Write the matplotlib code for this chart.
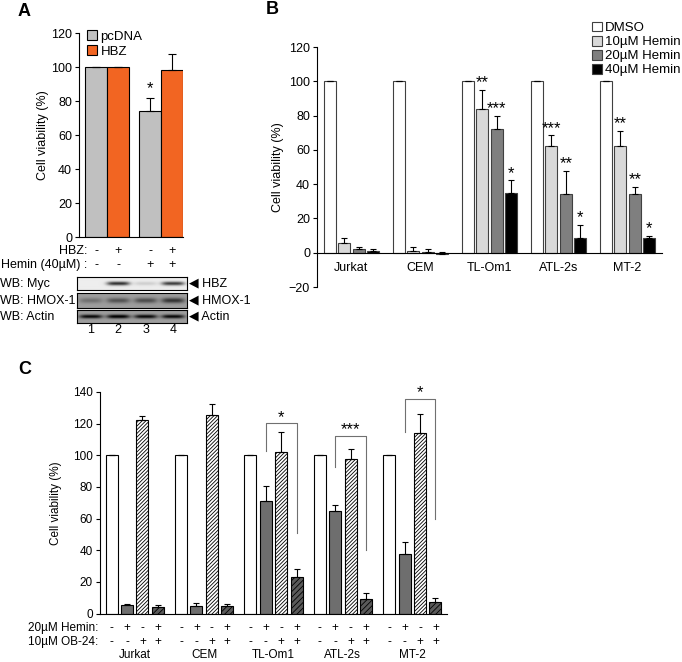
import numpy as np
import matplotlib
matplotlib.use("Agg")
import matplotlib.pyplot as plt
import matplotlib.transforms as mtrans
from matplotlib.patches import Patch

plt.rcParams['font.family'] = ['Liberation Sans', 'DejaVu Sans']
plt.rcParams['font.size'] = 9
plt.rcParams['hatch.linewidth'] = 0.6
plt.rcParams['axes.linewidth'] = 0.8

# ---------------- data ----------------
# panel A
a_groups = 2
a_pcdna = [100, 74]
a_pcdna_err = [0, 8]
a_hbz = [100, 98]
a_hbz_err = [0, 9.5]
a_hbz_signs = ['-', '+', '-', '+']
a_hemin_signs = ['-', '-', '+', '+']
a_lanes = ['1', '2', '3', '4']
# western blot band strengths per lane (0 = none)
wb_myc = [0.0, 0.75, 0.12, 0.7]
wb_hmox = [0.18, 0.3, 0.32, 0.42]
wb_actin = [0.6, 0.65, 0.6, 0.6]

# panel B
b_cells = ['Jurkat', 'CEM', 'TL-Om1', 'ATL-2s', 'MT-2']
b_series = ['DMSO', '10µM Hemin', '20µM Hemin', '40µM Hemin']
b_vals = [[100, 100, 100, 100, 100],
          [5.7, 0.8, 83.9, 62, 62],
          [2.3, 0.4, 72.2, 34.3, 34.3],
          [1.0, -0.8, 34.7, 8.6, 8.6]]
b_errs = [[0, 0, 0, 0, 0],
          [3.0, 2.7, 11.3, 6.5, 9.2],
          [1.0, 1.6, 7.8, 13.6, 4.2],
          [1.0, 1.3, 7.7, 7.8, 1.3]]
b_stars = [['', '', '', '', ''],
           ['', '', '**', '***', '**'],
           ['', '', '***', '**', '**'],
           ['', '', '*', '*', '*']]
b_colors = ['white', '#d9d9d9', '#7f7f7f', 'black']

# panel C
c_cells = ['Jurkat', 'CEM', 'TL-Om1', 'ATL-2s', 'MT-2']
c_vals = [[100, 100, 100, 100, 100],
          [5.3, 4.8, 71.3, 65, 37.7],
          [122.6, 125.3, 102, 97.5, 114.3],
          [4.4, 4.6, 22.8, 9.4, 7.5]]
c_errs = [[0, 0, 0, 0, 0],
          [0.4, 2.0, 9.2, 3.7, 7.8],
          [2.4, 7.2, 13, 6.2, 11.5],
          [1.2, 1.4, 5.5, 3.6, 2.5]]
c_hemin = ['-', '+', '-', '+']
c_ob = ['-', '-', '+', '+']
c_br_cells = [2, 3, 4]
c_br_top = [120.3, 112.4, 135.8]
c_br_left = [103, 92.5, 114.5]
c_br_right = [51, 40, 60]
c_br_stars = ['*', '***', '*']

fig = plt.figure(figsize=(6.82, 6.62), dpi=100)
W, H = 682.0, 662.0


def px_axes(x0, y0, x1, y1):
    # pixel box (top-left origin) -> axes
    return fig.add_axes([x0 / W, 1 - y1 / H, (x1 - x0) / W, (y1 - y0) / H])


def excel_style(ax):
    for s in ['top', 'right']:
        ax.spines[s].set_visible(False)
    ax.tick_params(axis='y', direction='out', length=3, width=0.8, pad=2)
    ax.tick_params(axis='x', length=0)
    ax.set_xticks([])


# ---------------- panel A ----------------
axA = px_axes(79, 33, 183, 237)
w = 0.407
xa = np.arange(a_groups)
axA.bar(xa - w / 2, a_pcdna, w, color='#c0c0c0', edgecolor='black', lw=0.8, label='pcDNA')
axA.bar(xa + w / 2, a_hbz, w, color='#f26522', edgecolor='black', lw=0.8, label='HBZ')
axA.errorbar(xa - w / 2, a_pcdna, yerr=[np.zeros(2), a_pcdna_err], fmt='none',
             ecolor='black', elinewidth=0.8, capsize=3, capthick=0.8)
axA.errorbar(xa + w / 2, a_hbz, yerr=[np.zeros(2), a_hbz_err], fmt='none',
             ecolor='black', elinewidth=0.8, capsize=3, capthick=0.8)
axA.text(1 - w / 2, a_pcdna[1] + a_pcdna_err[1] + 1.0, '*', ha='center', va='bottom', fontsize=12)
axA.set_xlim(-0.519, 1.407)
axA.set_ylim(0, 120)
axA.set_yticks(range(0, 121, 20))
excel_style(axA)
axA.set_ylabel('Cell viability (%)')
axA.yaxis.set_label_coords(-0.29, 0.5)
axA.legend(loc='upper left', bbox_to_anchor=(0.03, 1.04), frameon=False,
           handlelength=0.75, handleheight=0.75, handletextpad=0.25,
           labelspacing=0.2, borderaxespad=0, fontsize=9.5)

# sign rows below A
lane_x = np.array([-w / 2, w / 2, 1 - w / 2, 1 + w / 2])
trA = mtrans.blended_transform_factory(axA.transData, axA.transAxes)
for x, s1, s2 in zip(lane_x, a_hbz_signs, a_hemin_signs):
    axA.text(x, -0.069, s1, transform=trA, ha='center', va='center')
    axA.text(x, -0.137, s2, transform=trA, ha='center', va='center')
axA.text(-0.37, -0.069, 'HBZ:', transform=trA, ha='right', va='center')
axA.text(-0.37, -0.137, 'Hemin (40µM) :', transform=trA, ha='right', va='center')


def blot(box, bg, bands, thick, label_l, label_r):
    ax = px_axes(*box)
    nx, ny = 220, 40
    xs = np.linspace(0.5, 4.5, nx)
    ys = np.linspace(-1, 1, ny)
    img = np.full((ny, nx), bg)
    for i, b in enumerate(bands):
        lane = np.exp(-((xs - (i + 1)) / 0.42) ** 4)
        prof = np.exp(-(ys / thick) ** 2)
        img -= b * np.outer(prof, lane)
    ax.imshow(np.clip(img, 0, 1), cmap='gray', vmin=0, vmax=1,
              extent=(0.5, 4.5, -1, 1), aspect='auto', interpolation='bilinear')
    ax.set_xticks([])
    ax.set_yticks([])
    for s in ax.spines.values():
        s.set_linewidth(0.8)
    ax.text(-0.7, 0.5, label_l, transform=ax.transAxes, ha='left', va='center')
    ax.text(1.02, 0.5, '◀ ' + label_r, transform=ax.transAxes, ha='left', va='center')
    return ax


blot((77, 277, 187, 290), 0.93, wb_myc, 0.3, 'WB: Myc', 'HBZ')
blot((77, 293, 187, 308), 0.62, wb_hmox, 0.35, 'WB: HMOX-1', 'HMOX-1')
axW = blot((77, 310, 187, 323), 0.62, wb_actin, 0.3, 'WB: Actin', 'Actin')
for i, t in enumerate(a_lanes):
    axW.text(i + 1, -2.1, t, ha='center', va='center', clip_on=False)
axW.set_ylim(-1, 1)

# ---------------- panel B ----------------
axB = px_axes(317, 47, 662, 287)
xb = np.arange(len(b_cells))
bw = 0.18
offs = np.array([-1.5, -0.5, 0.5, 1.5]) * 0.21
for k in range(4):
    axB.bar(xb + offs[k], b_vals[k], bw, color=b_colors[k], edgecolor='#404040', lw=0.8,
            label=b_series[k])
    axB.errorbar(xb + offs[k], b_vals[k], yerr=[np.zeros(5), b_errs[k]], fmt='none',
                 ecolor='black', elinewidth=0.8, capsize=2.5, capthick=0.8)
    for i in range(5):
        if b_stars[k][i]:
            top = b_vals[k][i] + b_errs[k][i]
            axB.text(xb[i] + offs[k], top - 0.5, b_stars[k][i], ha='center', va='bottom',
                     fontsize=12)
axB.set_xlim(-0.5, 4.5)
axB.set_ylim(-20, 120)
axB.set_yticks(range(-20, 121, 20))
excel_style(axB)
axB.spines['bottom'].set_position(('data', 0))
for i, c in enumerate(b_cells):
    axB.text(xb[i], -8.8, c, ha='center', va='center')
axB.set_ylabel('Cell viability (%)')
axB.yaxis.set_label_coords(-0.095, 0.5)
fig.legend(handles=[Patch(facecolor=b_colors[k], edgecolor='#404040', lw=0.8, label=b_series[k])
                    for k in range(4)],
           loc='upper right', bbox_to_anchor=(1.005, 0.975), frameon=False,
           handlelength=0.75, handleheight=0.75, handletextpad=0.2,
           labelspacing=0.12, borderaxespad=0, fontsize=9.5)

# ---------------- panel C ----------------
axC = px_axes(100, 392, 447, 613.5)
xc = np.arange(len(c_cells))
cw = 0.174
coffs = np.array([-1.5, -0.5, 0.5, 1.5]) * 0.222
c_face = ['white', '#6e6e6e', 'white', '#5a5a5a']
c_hatch = [None, None, '/////////', '//////']
for k in range(4):
    axC.bar(xc + coffs[k], c_vals[k], cw, color=c_face[k], edgecolor='black', lw=0.8,
            hatch=c_hatch[k])
    axC.errorbar(xc + coffs[k], c_vals[k], yerr=[np.zeros(5), c_errs[k]], fmt='none',
                 ecolor='black', elinewidth=0.8, capsize=2.5, capthick=0.8)
for ci, top, lo_l, lo_r, st in zip(c_br_cells, c_br_top, c_br_left, c_br_right, c_br_stars):
    xl = xc[ci] + coffs[1]
    xr = xc[ci] + coffs[3]
    axC.plot([xl, xl, xr, xr], [lo_l, top, top, lo_r], color='#707070', lw=0.8)
    axC.text((xl + xr) / 2, top - 1, st, ha='center', va='bottom', fontsize=12)
axC.set_xlim(-0.5, 4.5)
axC.set_ylim(0, 140)
axC.set_yticks(range(0, 141, 20))
excel_style(axC)
axC.tick_params(axis='y', labelsize=8.5)
axC.set_ylabel('Cell viability (%)', fontsize=8.5)
axC.yaxis.set_label_coords(-0.11, 0.5)
trC = mtrans.blended_transform_factory(axC.transData, axC.transAxes)
for i in range(5):
    for k in range(4):
        axC.text(xc[i] + coffs[k], -0.065, c_hemin[k], transform=trC, ha='center', va='center', fontsize=8.5)
        axC.text(xc[i] + coffs[k], -0.129, c_ob[k], transform=trC, ha='center', va='center', fontsize=8.5)
    axC.text(xc[i], -0.186, c_cells[i], transform=trC, ha='center', va='center', fontsize=8.5)
axC.text(-0.52, -0.065, '20µM Hemin:', transform=trC, ha='right', va='center', fontsize=8.5)
axC.text(-0.52, -0.129, '10µM OB-24:', transform=trC, ha='right', va='center', fontsize=8.5)

# panel letters
fig.text(18 / W, 1 - 12 / H, 'A', fontsize=13, fontweight='bold', va='center')
fig.text(266 / W, 1 - 9 / H, 'B', fontsize=13, fontweight='bold', va='center')
fig.text(18 / W, 1 - 370 / H, 'C', fontsize=13, fontweight='bold', va='center')

fig.savefig('out.png', dpi=100)
